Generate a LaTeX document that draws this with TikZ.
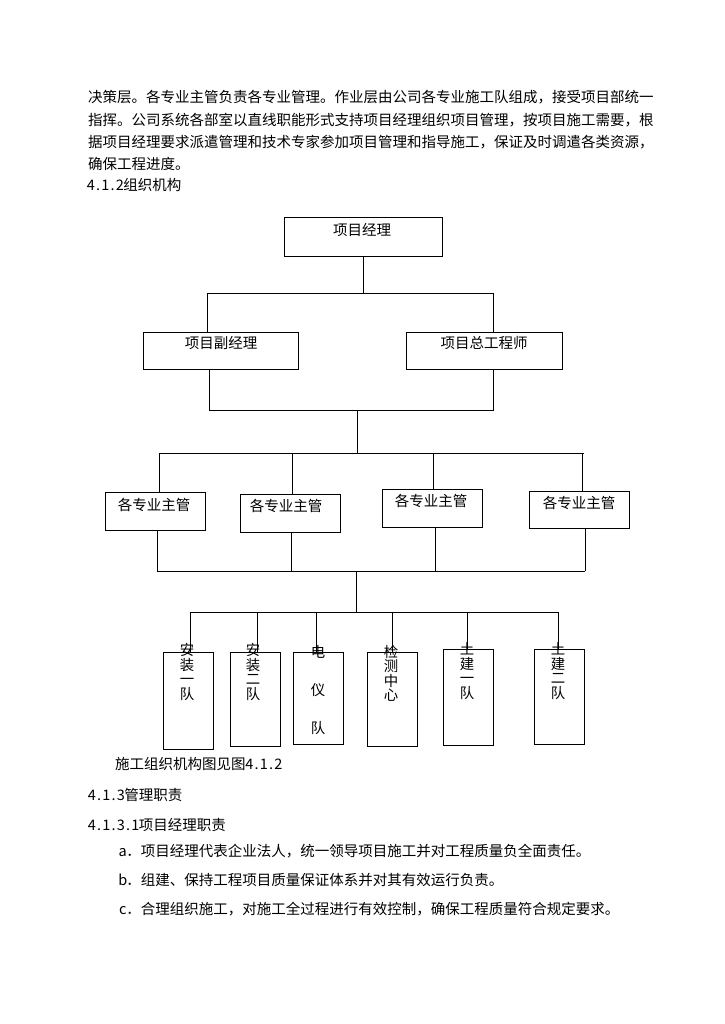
\documentclass[tikz,border=0pt]{standalone}
\usepackage{fontspec}
\setmainfont{Noto Sans CJK SC}
\newcommand\halfw[1]{\hwloop#1\relax}
\def\hwloop#1{\ifx#1\relax\else\makebox[0.5em]{#1}\expandafter\hwloop\fi}
\tikzset{
  ln/.style={line width=0.9pt, black},
  box/.style={draw, line width=0.9pt, inner sep=0pt},
  txt/.style={inner sep=0pt, text height=0.76em, text depth=0.24em, font=\fontsize{14.5pt}{14.5pt}\selectfont},
  para/.style={txt, anchor=west},
  vt/.style={inner sep=0pt, align=center, font=\fontsize{14.4pt}{14.4pt}\selectfont},
  vtw/.style={inner sep=0pt, align=center, font=\fontsize{14.4pt}{38pt}\selectfont}
}
\begin{document}
\begin{tikzpicture}[x=1pt,y=-1pt]
\useasboundingbox (0,0) rectangle (724,1024);
% paragraph
\node[para] (p1) at (88,100) {决策层。各专业主管负责各专业管理。作业层由公司各专业施工队组成，接受项目部统一};
\node[para] (p2) at (88,123) {指挥。公司系统各部室以直线职能形式支持项目经理组织项目管理，按项目施工需要，根};
\node[para] (p3) at (88,145) {据项目经理要求派遣管理和技术专家参加项目管理和指导施工，保证及时调遣各类资源，};
\node[para] (p4) at (88,167) {确保工程进度。};
\node[para] (h1) at (87,188) {\halfw{4.1.2}组织机构};
% level 1 and 2
\node[box, minimum width=158pt, minimum height=39pt] (pm) at (363,236.5) {};
\node[txt] (pmT) at (362,233) {项目经理};
\node[box, minimum width=155pt, minimum height=37pt] (dpm) at (220.5,350.5) {};
\node[txt] (dpmT) at (221,346) {项目副经理};
\node[box, minimum width=156pt, minimum height=37pt] (ce) at (484,350.5) {};
\node[txt] (ceT) at (484,346) {项目总工程师};
\coordinate (b1L) at (207,293);
\coordinate (b1R) at (493,293);
\draw[ln] (pm.south) -- (pm.south |- b1L);
\draw[ln] (b1L |- dpm.north) -- (b1L) -- (b1R) -- (b1R |- ce.north);
\coordinate (b2L) at (209,410);
\coordinate (b2R) at (493,410);
\draw[ln] (b2L |- dpm.south) -- (b2L) -- (b2R) -- (b2R |- ce.south);
\coordinate (b3) at (357,453);
\draw[ln] (b3 |- b2L) -- (b3);
\coordinate (b3L) at (159,453);
\coordinate (b3R) at (584,453);
\draw[ln] (b3L) -- (b3R);
% managers
\node[box, minimum width=100pt, minimum height=38pt] (m1) at (155,511) {};
\node[box, minimum width=100pt, minimum height=38pt] (m2) at (290,513) {};
\node[box, minimum width=100pt, minimum height=38pt] (m3) at (432,508) {};
\node[box, minimum width=100pt, minimum height=37pt] (m4) at (579,509.5) {};
\node[txt] (m1T) at (154,508) {各专业主管};
\node[txt] (m2T) at (286,509) {各专业主管};
\node[txt] (m3T) at (431,504) {各专业主管};
\node[txt] (m4T) at (579,506) {各专业主管};
\draw[ln] ([xshift=4pt]m1.north) -- ([xshift=4pt]m1.north |- b3L);
\draw[ln] ([xshift=2pt]m2.north) -- ([xshift=2pt]m2.north |- b3L);
\draw[ln] ([xshift=1pt]m3.north) -- ([xshift=1pt]m3.north |- b3L);
\draw[ln] ([xshift=3pt]m4.north) -- ([xshift=3pt]m4.north |- b3L);
\coordinate (b4L) at (157,571);
\coordinate (b4R) at (585,571);
\draw[ln] ([xshift=2pt]m1.south) -- ([xshift=2pt]m1.south |- b4L);
\draw[ln] ([xshift=1pt]m2.south) -- ([xshift=1pt]m2.south |- b4L);
\draw[ln] ([xshift=3pt]m3.south) -- ([xshift=3pt]m3.south |- b4L);
\draw[ln] ([xshift=6pt]m4.south) -- ([xshift=6pt]m4.south |- b4L);
\draw[ln] (b4L) -- (b4R);
\coordinate (b5) at (356,612);
\draw[ln] (b5 |- b4L) -- (b5);
\coordinate (b5L) at (190,612);
\coordinate (b5R) at (559,612);
\draw[ln] (b5L) -- (b5R);
% teams
\node[box, minimum width=50pt, minimum height=97pt] (t1) at (188,700.5) {};
\node[box, minimum width=50pt, minimum height=94pt] (t2) at (255,699) {};
\node[box, minimum width=50pt, minimum height=92pt] (t3) at (318,698) {};
\node[box, minimum width=50pt, minimum height=94pt] (t4) at (392,699) {};
\node[box, minimum width=50pt, minimum height=96pt] (t5) at (468,697) {};
\node[box, minimum width=50pt, minimum height=95pt] (t6) at (559,696.5) {};
\draw[ln] ([xshift=2pt]t1.north) -- ([xshift=2pt]t1.north |- b5L);
\draw[ln] ([xshift=2pt]t2.north) -- ([xshift=2pt]t2.north |- b5L);
\draw[ln] ([xshift=-2pt]t3.north) -- ([xshift=-2pt]t3.north |- b5L);
\draw[ln] (t4.north) -- (t4.north |- b5L);
\draw[ln] ([xshift=-1pt]t5.north) -- ([xshift=-1pt]t5.north |- b5L);
\draw[ln] ([xshift=-1pt]t6.north) -- ([xshift=-1pt]t6.north |- b5L);
\node[vt] (t1T) at (187,672) {安\\装\\一\\队};
\node[vt] (t2T) at (253,672) {安\\装\\二\\队};
\node[vtw] (t3T) at (318,690) {电\\仪\\队};
\node[vt] (t4T) at (391,673.5) {检\\测\\中\\心};
\node[vt] (t5T) at (467,671) {土\\建\\一\\队};
\node[vt] (t6T) at (558,671) {土\\建\\二\\队};
% lower text
\node[para] (c1) at (115,767) {施工组织机构图见图\halfw{4.1.2}};
\node[para] (c2) at (88,798) {\halfw{4.1.3}管理职责};
\node[para] (c3) at (88,828) {\halfw{4.1.3.1}项目经理职责};
\node[para] (la) at (119,854) {\halfw{a}．项目经理代表企业法人，统一领导项目施工并对工程质量负全面责任。};
\node[para] (lb) at (119,883) {\halfw{b}．组建、保持工程项目质量保证体系并对其有效运行负责。};
\node[para] (lc) at (119,912) {\halfw{c}．合理组织施工，对施工全过程进行有效控制，确保工程质量符合规定要求。};
\end{tikzpicture}
\end{document}
